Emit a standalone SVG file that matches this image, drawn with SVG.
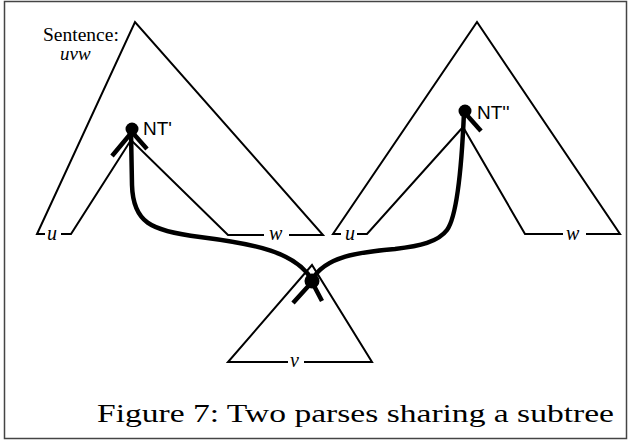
<svg xmlns="http://www.w3.org/2000/svg" width="629" height="442" viewBox="0 0 629 442">
<style>
.tri{fill:none;stroke:#000;stroke-width:2;stroke-linejoin:miter}
.thick{fill:none;stroke:#000;stroke-width:4.5;stroke-linecap:round}
.tick{fill:none;stroke:#000;stroke-width:4.5;stroke-linecap:butt}
.lab{font-family:"Liberation Serif","Times New Roman",serif;font-style:italic;font-size:20px;fill:#000}
.nt{font-family:"Liberation Sans",Arial,sans-serif;font-size:19px;fill:#000}
.ser{font-family:"Liberation Serif","Times New Roman",serif;font-weight:normal;fill:#000}
</style>
<rect x="4.5" y="1.5" width="622" height="437" fill="#fff" stroke="#444" stroke-width="1.5"/>
<g id="left-tree">
<path class="tri" d="M45,234 L37,234 L135,22 L323,235 L289,235 M264,235 L228,235 L131,140 L71,234 L61,234"/>
<text class="lab" x="47" y="240">u</text>
<text class="lab" x="269" y="240">w</text>
<text class="ser" x="43" y="41" font-size="19.5">Sentence:</text>
<text class="ser" x="60" y="60" font-size="19" font-style="italic">uvw</text>
</g>
<g id="right-tree">
<path class="tri" d="M341,234 L333,234 L477,22 L620,234 L586,234 M563,234 L525,234 L463,127 L367,234 L357,234"/>
<text class="lab" x="345" y="240">u</text>
<text class="lab" x="566" y="240">w</text>
</g>
<g id="subtree">
<path class="tri" d="M288,362 L228,362 L312,265 L372,362 L304,362"/>
<text class="lab" x="290" y="367">v</text>
</g>
<g id="connectors">
<path class="thick" d="M131,132 L132,185 C133,222 150,231 200,237 C255,244 296,252 312,280"/>
<path class="thick" d="M464,112 C462,160 458,215 447,230 C438,242 420,246 395,249 C360,252 325,256 312,280"/>
</g>
<g id="nt1">
<circle cx="132" cy="129" r="6.5" fill="#000"/>
<path class="tick" d="M132,132 L112,156 M132,132 L147,149"/>
<text class="nt" x="143" y="135">NT'</text>
</g>
<g id="nt2">
<circle cx="465" cy="111" r="6.5" fill="#000"/>
<path class="tick" d="M465,113 L481,131"/>
<text class="nt" x="477" y="119">NT''</text>
</g>
<g id="shared">
<circle cx="312" cy="281" r="7.5" fill="#000"/>
<path class="tick" d="M312,282 L293,303 M312,282 L322,301"/>
</g>
<text class="ser" x="97" y="422" font-size="25" textLength="517" lengthAdjust="spacingAndGlyphs">Figure 7: Two parses sharing a subtree</text>
</svg>
